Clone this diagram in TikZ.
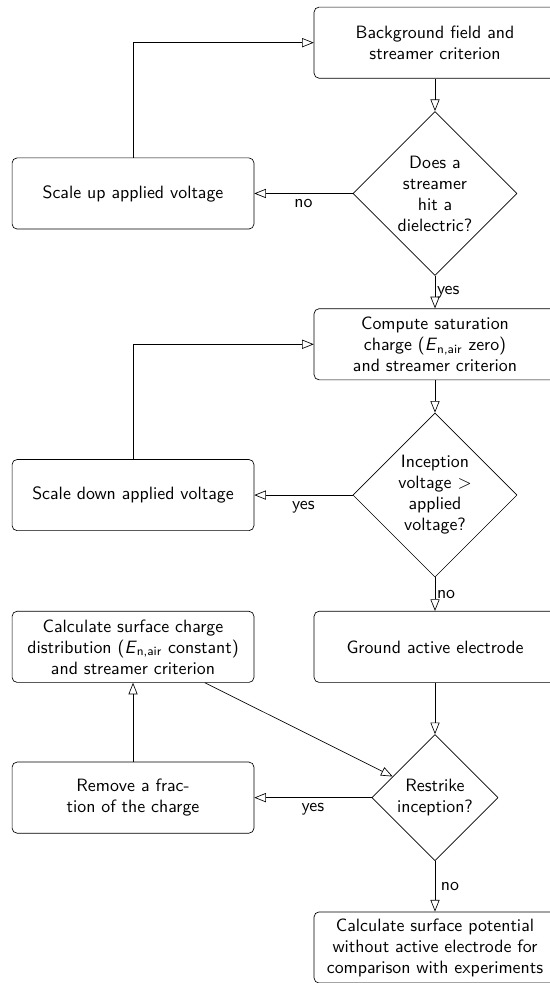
\documentclass[tikz,border=0pt]{standalone}
\usetikzlibrary{shapes.geometric,arrows.meta}
\newcommand{\Enair}{\textit{E}\textsubscript{n,air}}
\begin{document}
\begin{tikzpicture}[>={Triangle[open,length=7pt,width=5.5pt]},line join=round,font=\sffamily\fontsize{10.7pt}{12.6pt}\selectfont,
  proc/.style={draw,rectangle,rounded corners=3pt,align=center,minimum width=5.1cm,minimum height=1.5cm,inner sep=2pt},
  decide/.style={draw,diamond,aspect=1,align=center,inner sep=0pt,minimum size=3.46cm}]
\useasboundingbox (0,0) rectangle (11.577,-20.729);
% right column
\node[proc] (bgfield) at (9.173,-0.9) {Background field and\\streamer criterion};
\node[decide] (hitdiel) at (9.173,-4.08) {Does a\\streamer\\hit a\\dielectric?};
\node[proc] (satcharge) at (9.173,-7.26) {Compute saturation\\charge (\Enair{} zero)\\and streamer criterion};
\node[decide] (inception) at (9.173,-10.44) {Inception\\voltage $>$\\applied\\voltage?};
\node[proc] (ground) at (9.173,-13.64) {Ground active electrode};
\node[decide,minimum size=2.66cm] (restrike) at (9.173,-16.82) {Restrike\\inception?};
\node[proc] (surfpot) at (9.173,-19.98) {Calculate surface potential\\without active electrode for\\comparison with experiments};
% left column
\node[proc] (scaleup) at (2.805,-4.08) {Scale up applied voltage};
\node[proc] (scaledown) at (2.805,-10.44) {Scale down applied voltage};
\node[proc] (surfcharge) at (2.805,-13.64) {Calculate surface charge\\distribution (\Enair{} constant)\\and streamer criterion};
\node[proc] (removeq) at (2.805,-16.82) {Remove a frac-\\tion of the charge};
% connectors
\draw[->] (bgfield) -- (hitdiel);
\draw[->] (hitdiel) -- node[below]{no} (scaleup);
\draw[->] (scaleup.north) |- (bgfield.west);
\draw[->] (hitdiel) -- node[right,inner sep=1pt]{yes} (satcharge);
\draw[->] (satcharge) -- (inception);
\draw[->] (inception) -- node[below]{yes} (scaledown);
\draw[->] (scaledown.north) |- (satcharge.west);
\draw[->] (inception) -- node[right,inner sep=1pt]{no} (ground);
\draw[->] (ground) -- (restrike);
\draw[->] (restrike) -- node[below]{yes} (removeq);
\draw[->] (removeq) -- (surfcharge);
\draw[->] (surfcharge) -- (restrike);
\draw[->] (restrike) -- node[right]{no} (surfpot);
\end{tikzpicture}
\end{document}
